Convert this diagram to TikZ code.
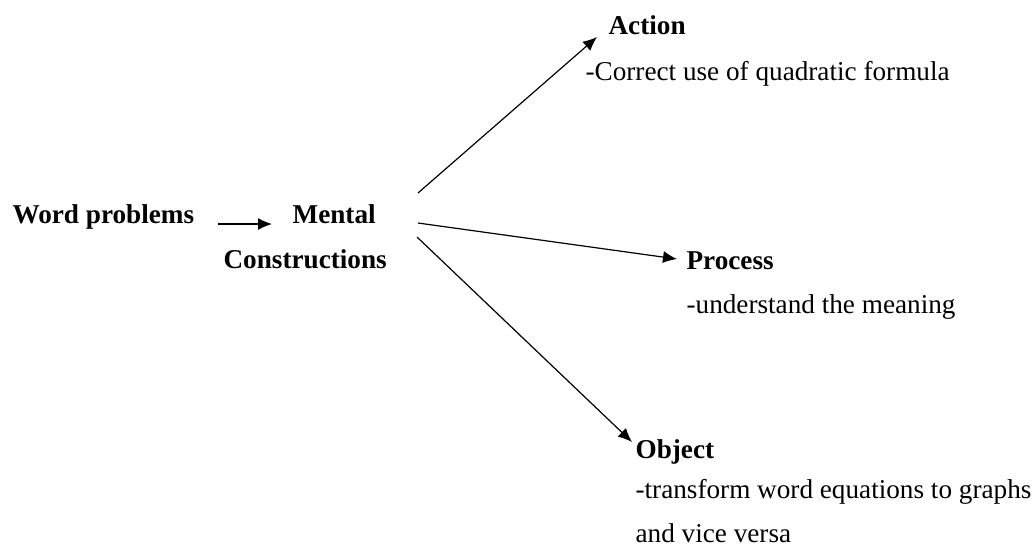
\documentclass[tikz,border=0pt]{standalone}
\usepackage{fontspec}
\setmainfont{Liberation Serif}
\usetikzlibrary{arrows.meta}
\tikzset{label/.style = {inner sep=0pt, anchor=base west, font=\fontsize{13.6}{15}\selectfont}}
\tikzset{head/.style = {label, font=\fontsize{13.6}{15}\selectfont\bfseries}}

\begin{document}
\begin{tikzpicture}[x=0.5pt, y=-0.5pt, >={Latex[length=7pt, width=6pt]}, line width=0.6pt]
  \useasboundingbox (0,0) rectangle (1034,554);
  \node [head] (wp) at (12,223) {Word problems};
  \node [head] (mental) at (292,223) {Mental};
  \node [head] (constr) at (223,268) {Constructions};

  \node [head] (action) at (608,34) {Action};
  \node [label] (actiontxt) at (585,80) {-Correct use of quadratic formula};
  \node [head] (process) at (686,269) {Process};
  \node [label] (processtxt) at (686,313) {-understand the meaning};
  \node [head] (object) at (635,458) {Object};
  \node [label] (objecttxt) at (635,498) {-transform word equations to graphs};
  \node [label] (objecttxt2) at (635,542) {and vice versa};

  \coordinate (s1) at (418,193);
  \coordinate (s2) at (418,223);
  \coordinate (s3) at (417,237);

  \draw[->] ([shift={(23,1)}]wp.base east) -- ([shift={(-20,1)}]mental.base west);
  \draw[->] (s1) -- ([shift={(-11,3)}]action.base west);
  \draw[->] (s2) -- ([shift={(-9,-10)}]process.base west);
  \draw[->] (s3) -- ([shift={(-3,-16)}]object.base west);
\end{tikzpicture}
\end{document}
